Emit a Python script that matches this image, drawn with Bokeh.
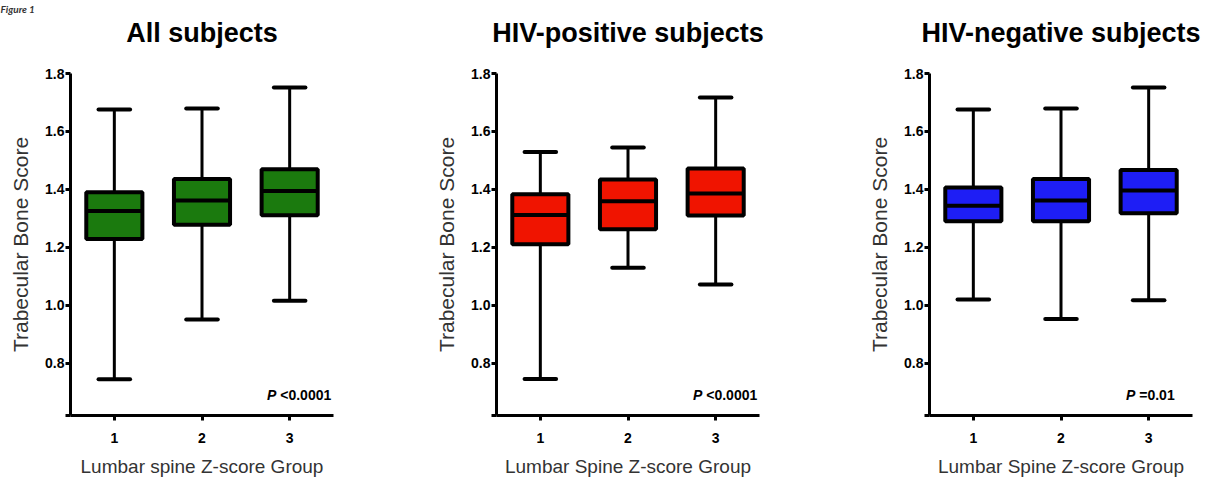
from bokeh.plotting import figure
from bokeh.layouts import row
from bokeh.models import ColumnDataSource, FixedTicker, Range1d, LinearAxis
from bokeh.core.properties import value
from bokeh.embed import file_html
from bokeh.resources import INLINE

# ---------------- data ----------------
groups = [1, 2, 3]
group_labels = ["1", "2", "3"]
titles = ["All subjects", "HIV-positive subjects", "HIV-negative subjects"]
x_titles = ["Lumbar spine Z-score Group", "Lumbar Spine Z-score Group", "Lumbar Spine Z-score Group"]
y_title = "Trabecular Bone Score"
figure_caption = "Figure 1"
colors = ["#1B7A0E", "#F01400", "#1E1EF5"]
p_values = ["<0.0001", "<0.0001", "=0.01"]
y_ticks = [0.8, 1.0, 1.2, 1.4, 1.6, 1.8]

all_min = [0.745, 0.951, 1.016]
all_q1 = [1.229, 1.278, 1.311]
all_med = [1.326, 1.362, 1.395]
all_q3 = [1.390, 1.436, 1.470]
all_max = [1.676, 1.679, 1.752]

pos_min = [0.746, 1.130, 1.072]
pos_q1 = [1.211, 1.263, 1.310]
pos_med = [1.312, 1.359, 1.386]
pos_q3 = [1.383, 1.434, 1.472]
pos_max = [1.529, 1.545, 1.717]

neg_min = [1.020, 0.953, 1.018]
neg_q1 = [1.290, 1.290, 1.318]
neg_med = [1.344, 1.362, 1.396]
neg_q3 = [1.407, 1.436, 1.467]
neg_max = [1.676, 1.679, 1.752]

panels = [
    (all_min, all_q1, all_med, all_q3, all_max),
    (pos_min, pos_q1, pos_med, pos_q3, pos_max),
    (neg_min, neg_q1, neg_med, neg_q3, neg_max),
]

# ---------------- layout ----------------
X0, X1 = 0.5, 3.5
Y0, Y1 = 0.62, 1.8
FRAME_W, FRAME_H = 263, 342
TOP, BOTTOM = 73, 64
borders = [(70, 75), (88, 79), (91, 10)]
BOX_W = 0.64
CAP_W = 0.36
FONT = "Liberation Sans"

figs = []
for i, (mn, q1, med, q3, mx) in enumerate(panels):
    bl, br = borders[i]
    p = figure(
        frame_width=FRAME_W, frame_height=FRAME_H,
        x_range=Range1d(X0, X1), y_range=Range1d(Y0, Y1),
        min_border_left=bl, min_border_right=br,
        min_border_top=TOP, min_border_bottom=BOTTOM,
        output_backend="svg", toolbar_location=None,
    )
    p.outline_line_color = None
    p.xgrid.visible = False
    p.ygrid.visible = False
    p.background_fill_color = "white"
    p.border_fill_color = "white"

    xa = p.below[0]
    ya = p.left[0]

    # panel title as the label of an invisible axis above the frame
    ta = LinearAxis(ticker=FixedTicker(ticks=[]), axis_label=titles[i])
    ta.axis_line_color = None
    ta.major_tick_out = 0
    ta.major_tick_in = 0
    ta.minor_tick_out = 0
    ta.minor_tick_in = 0
    ta.major_label_standoff = 0
    ta.axis_label_standoff = 26
    ta.axis_label_text_font = FONT
    ta.axis_label_text_font_size = "27px"
    ta.axis_label_text_font_style = "bold"
    ta.axis_label_text_color = "black"
    p.add_layout(ta, "above")

    if i == 0:
        p.title.text = figure_caption
        p.title.align = "left"
        p.title.offset = -bl
        p.title.standoff = 0
        p.title.text_font = "Lato"
        p.title.text_font_size = "10px"
        p.title.text_font_style = "bold italic"
        p.title.text_color = "#333333"

    # y axis
    ya.ticker = FixedTicker(ticks=[Y0] + y_ticks)
    ya.major_label_overrides = {Y0: ""} | {t: f"{t:.1f}" for t in y_ticks}
    ya.axis_label = y_title
    ya.axis_label_text_font = FONT
    ya.axis_label_text_font_size = "21px"
    ya.axis_label_text_font_style = "normal"
    ya.axis_label_text_color = "#333333"
    ya.axis_label_standoff = 10
    ya.major_label_text_font = FONT
    ya.major_label_text_font_size = "14px"
    ya.major_label_text_font_style = "bold"
    ya.major_label_text_color = "black"
    ya.major_label_standoff = 1
    ya.axis_line_width = 3
    ya.major_tick_line_width = 3
    ya.major_tick_in = 0
    ya.major_tick_out = 5
    ya.minor_tick_line_color = None

    # x axis
    xa.ticker = FixedTicker(ticks=groups)
    xa.major_label_overrides = {g: l for g, l in zip(groups, group_labels)}
    xa.axis_label = x_titles[i]
    xa.axis_label_text_font = FONT
    xa.axis_label_text_font_size = "19px"
    xa.axis_label_text_font_style = "normal"
    xa.axis_label_text_color = "#333333"
    xa.axis_label_standoff = 10
    xa.major_label_text_font = FONT
    xa.major_label_text_font_size = "14px"
    xa.major_label_text_font_style = "bold"
    xa.major_label_text_color = "black"
    xa.major_label_standoff = 12
    xa.axis_line_width = 3
    xa.major_tick_line_width = 3
    xa.major_tick_in = 0
    xa.major_tick_out = 5
    xa.minor_tick_line_color = None

    src = ColumnDataSource(dict(
        x=groups, lo=mn, q1=q1, med=med, q3=q3, hi=mx,
        bl=[g - BOX_W / 2 for g in groups], br=[g + BOX_W / 2 for g in groups],
        cl=[g - CAP_W / 2 for g in groups], cr=[g + CAP_W / 2 for g in groups],
    ))
    # whiskers
    p.segment(x0="x", y0="q3", x1="x", y1="hi", source=src, line_color="black", line_width=3)
    p.segment(x0="x", y0="lo", x1="x", y1="q1", source=src, line_color="black", line_width=3)
    # caps
    p.segment(x0="cl", y0="hi", x1="cr", y1="hi", source=src, line_color="black",
              line_width=4, line_cap="round")
    p.segment(x0="cl", y0="lo", x1="cr", y1="lo", source=src, line_color="black",
              line_width=4, line_cap="round")
    # boxes
    p.vbar(x="x", width=BOX_W, bottom="q1", top="q3", source=src,
           fill_color=colors[i], line_color="black", line_width=4)
    # median
    p.segment(x0="bl", y0="med", x1="br", y1="med", source=src, line_color="black", line_width=4)

    # p-value annotation
    p.text(x=[2.87], y=[0.69], text=["P"], text_align="right", text_baseline="middle",
           x_offset=-2, text_font=value(FONT), text_font_size="14px",
           text_font_style="bold italic", text_color="black")
    p.text(x=[2.87], y=[0.69], text=[p_values[i]], text_align="left", text_baseline="middle",
           x_offset=2, text_font=value(FONT), text_font_size="14px",
           text_font_style="bold", text_color="black")

    figs.append(p)

layout = row(*figs)
open("out.html", "w").write(file_html(layout, INLINE))
